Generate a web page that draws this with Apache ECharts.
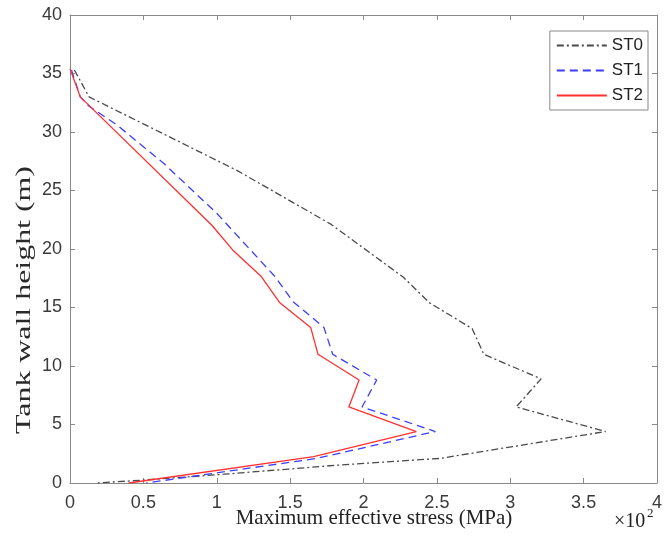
<!DOCTYPE html>
<html>
<head>
<meta charset="utf-8">
<script src="https://cdn.jsdelivr.net/npm/echarts@6/dist/echarts.min.js"></script>
<style>html,body{margin:0;padding:0;background:#fff}#c{width:667px;height:543px}</style>
</head>
<body>
<div id="c"></div>
<script>
var seriesNames = ['ST0', 'ST1', 'ST2'];
var xTicks = ['0', '0.5', '1', '1.5', '2', '2.5', '3', '3.5', '4'];
var yTicks = ['0', '5', '10', '15', '20', '25', '30', '35', '40'];

var st0Height = [35.3, 33.0, 26.7, 22.1, 17.6, 15.4, 13.2, 11.0, 8.9, 6.5, 4.4, 2.1, 1.55, 0.75, 0.25, 0];
var st0Stress = [0.03, 0.13, 1.14, 1.78, 2.27, 2.45, 2.74, 2.82, 3.21, 3.04, 3.65, 2.52, 1.85, 1.05, 0.50, 0.18];

var st1Height = [35.3, 33.0, 32.2, 30.6, 27.3, 23.05, 17.6, 15.5, 13.3, 11.0, 8.8, 6.5, 4.4, 2.1, 0];
var st1Stress = [0.01, 0.07, 0.13, 0.32, 0.64, 1.00, 1.40, 1.52, 1.73, 1.79, 2.09, 1.99, 2.49, 1.68, 0.52];

var st2Height = [35.4, 33.0, 22.05, 19.9, 17.7, 15.4, 13.3, 11.0, 8.8, 6.5, 4.4, 2.25, 0];
var st2Stress = [0.00, 0.07, 0.965, 1.11, 1.30, 1.43, 1.64, 1.69, 1.97, 1.90, 2.36, 1.66, 0.40];

function pairs(xs, ys) { return xs.map(function (v, i) { return [v, ys[i]]; }); }

var axisGray = '#8a8a8a';
var labelColor = '#3a3a3a';
var tickFont = 'Liberation Sans, Arial, sans-serif';
var serifFont = '"Liberation Serif", "Times New Roman", serif';

function xAx(pos, showLabel) {
  return {
    type: 'value', position: pos, min: 0, max: 4, interval: 0.5,
    axisLine: { show: true, onZero: false, lineStyle: { color: axisGray, width: 1 } },
    axisTick: { show: true, inside: true, length: 5, lineStyle: { color: axisGray } },
    axisLabel: { show: showLabel, color: labelColor, fontSize: 18, fontFamily: tickFont, margin: 11,
      formatter: function (v) { return xTicks[Math.round(v / 0.5)]; } },
    splitLine: { show: false }
  };
}
function yAx(pos, showLabel) {
  return {
    type: 'value', position: pos, min: 0, max: 40, interval: 5,
    axisLine: { show: true, onZero: false, lineStyle: { color: axisGray, width: 1 } },
    axisTick: { show: true, inside: true, length: 5, lineStyle: { color: axisGray } },
    axisLabel: { show: showLabel, color: labelColor, fontSize: 18, fontFamily: tickFont, margin: 8,
      formatter: function (v) { return yTicks[Math.round(v / 5)]; } },
    splitLine: { show: false }
  };
}

var chart = echarts.init(document.getElementById('c'), null, { renderer: 'canvas' });
chart.setOption({
  animation: false,
  backgroundColor: '#fff',
  grid: { left: 70, right: 10, top: 15, bottom: 60, containLabel: false },
  xAxis: [xAx('bottom', true), xAx('top', false)],
  yAxis: [yAx('left', true), yAx('right', false)],
  legend: {
    orient: 'vertical', right: 19, top: 31,
    data: seriesNames,
    backgroundColor: '#fff',
    borderColor: '#888', borderWidth: 1, borderRadius: 0,
    padding: [6, 5, 6, 6],
    itemWidth: 50, itemHeight: 14, itemGap: 8,
    itemStyle: { opacity: 0 },
    textStyle: { fontSize: 17, color: '#222', fontFamily: tickFont }
  },
  series: [
    { name: seriesNames[0], type: 'line', data: pairs(st0Stress, st0Height), symbol: 'none',
      lineStyle: { color: '#4a4a4a', width: 1.3, type: [7, 3, 2, 3] }, itemStyle: { color: '#4a4a4a' } },
    { name: seriesNames[1], type: 'line', data: pairs(st1Stress, st1Height), symbol: 'none',
      lineStyle: { color: '#3d3dff', width: 1.3, type: [8, 5] }, itemStyle: { color: '#3d3dff' } },
    { name: seriesNames[2], type: 'line', data: pairs(st2Stress, st2Height), symbol: 'none',
      lineStyle: { color: '#ff3030', width: 1.3, type: 'solid' }, itemStyle: { color: '#ff3030' } }
  ],
  graphic: [
    { type: 'text', x: 374, y: 518,
      style: { text: 'Maximum effective stress (MPa)', font: '21px ' + serifFont, fill: '#222',
        textAlign: 'center', textVerticalAlign: 'middle' } },
    { type: 'text', x: 24, y: 300, rotation: Math.PI / 2, scaleX: 1.45, scaleY: 1,
      style: { text: 'Tank wall height (m)', font: '22px ' + serifFont, fill: '#2a2a2a',
        textAlign: 'center', textVerticalAlign: 'middle' } },
    { type: 'text', x: 614, y: 522,
      style: { text: '×10', font: '20px ' + serifFont, fill: '#222',
        textAlign: 'left', textVerticalAlign: 'middle' } },
    { type: 'text', x: 647, y: 514,
      style: { text: '2', font: '13px ' + serifFont, fill: '#222',
        textAlign: 'left', textVerticalAlign: 'middle' } }
  ]
});
</script>
</body>
</html>
